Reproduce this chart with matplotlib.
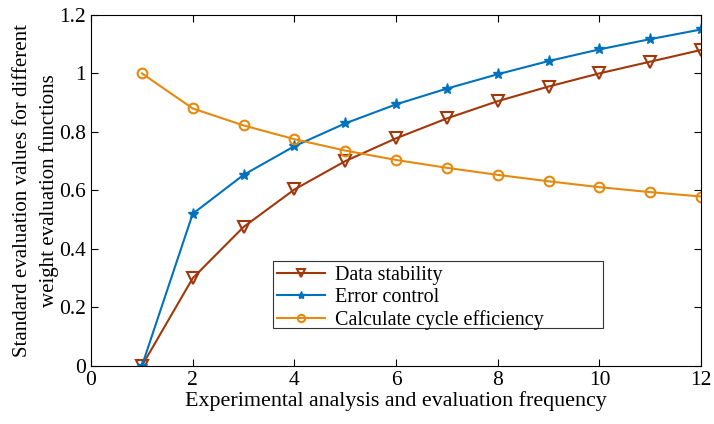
import matplotlib.pyplot as plt
from matplotlib.patches import Rectangle
import numpy as np

x = np.arange(1, 13)
data_stability = [0.0, 0.30, 0.475, 0.603, 0.700, 0.778, 0.846, 0.905, 0.955, 1.0, 1.040, 1.080]
error_control = [0.0, 0.52, 0.653, 0.751, 0.829, 0.894, 0.948, 0.997, 1.042, 1.082, 1.117, 1.150]
cycle_eff = [1.0, 0.880, 0.822, 0.775, 0.736, 0.704, 0.677, 0.653, 0.631, 0.611, 0.594, 0.579]

labels = ['Data stability', 'Error control', 'Calculate cycle efficiency']

plt.rcParams['font.family'] = ['Liberation Serif', 'DejaVu Serif']

fig = plt.figure(figsize=(7.14, 4.24), dpi=100)
ax = fig.add_axes([0.1275, 0.137, 0.8545, 0.828])

ax.plot(x, data_stability, '-v', color='#A0380C', lw=1.5, ms=8,
        mfc='none', mew=1.5, label=labels[0])
ax.plot(x, error_control, '-*', color='#0072BD', lw=1.5, ms=8,
        label=labels[1])
ax.plot(x, cycle_eff, '-o', color='#E58A0F', lw=1.5, ms=7,
        mfc='none', mew=1.5, label=labels[2])

ax.set_xlim(0, 12)
ax.set_ylim(0, 1.2)
ax.set_xticks(np.arange(0, 13, 2))
ax.set_yticks([0, 0.2, 0.4, 0.6, 0.8, 1, 1.2])
ax.set_yticklabels(['0', '0.2', '0.4', '0.6', '0.8', '1', '1.2'])
ax.tick_params(direction='in', top=True, right=True, labelsize=15.5, length=5, width=0.8)
for s in ax.spines.values():
    s.set_linewidth(0.8)

ax.set_xlabel('Experimental analysis and evaluation frequency', fontsize=15.8, labelpad=1)
ax.set_ylabel('Standard evaluation values for different\nweight evaluation functions',
              fontsize=15, labelpad=0, linespacing=1.5)

# legend box is wider than its text (matlab style), so draw frame separately
ax.add_patch(Rectangle((0.299, 0.108), 0.54, 0.191, transform=ax.transAxes,
                       facecolor='white', edgecolor='#333333', lw=0.8, zorder=4))
leg = ax.legend(loc='upper left', bbox_to_anchor=(0.305, 0.285), fontsize=14.5,
                frameon=False, markerscale=0.75, handlelength=2.4, borderpad=0,
                labelspacing=0.14, handletextpad=0.45, borderaxespad=0)
leg.set_zorder(5)

fig.savefig('out.png', dpi=100)
